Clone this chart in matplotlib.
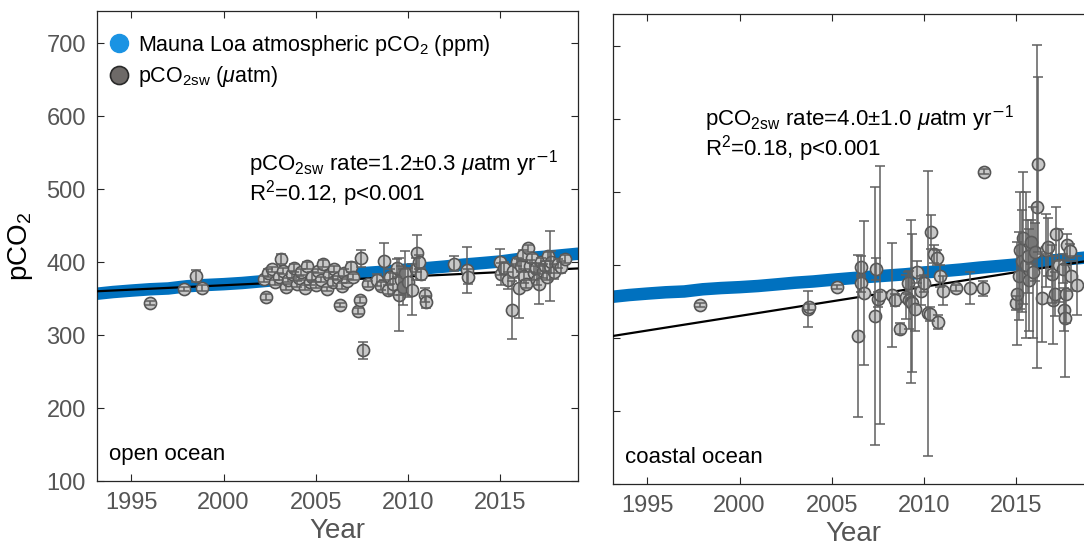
import matplotlib
matplotlib.use("Agg")
import matplotlib.pyplot as plt
from matplotlib.lines import Line2D
import numpy as np

plt.rcParams['font.family'] = ['Liberation Sans', 'DejaVu Sans']
plt.rcParams['mathtext.fontset'] = 'custom'
plt.rcParams['mathtext.rm'] = 'Liberation Sans'
plt.rcParams['mathtext.it'] = 'Liberation Sans:italic'
plt.rcParams['mathtext.default'] = 'regular'

# Mauna Loa annual mean atmospheric pCO2 (ppm)
ml_year = [1993.1, 1994, 1995, 1996, 1997, 1998, 1999, 2000, 2001, 2002, 2003, 2004,
           2005, 2006, 2007, 2008, 2009, 2010, 2011, 2012, 2013, 2014, 2015, 2016,
           2017, 2018, 2019.2]
ml_co2 = [356.5, 358.9, 360.9, 362.7, 363.8, 366.8, 368.5, 369.7, 371.3, 373.5, 375.8,
          377.5, 379.8, 381.9, 383.8, 385.6, 387.4, 389.9, 391.7, 393.9, 396.5, 398.6,
          400.8, 404.2, 406.5, 408.5, 411.4]

# open ocean pCO2sw
open_year = [1996.0, 1997.85, 1998.5, 1998.85, 2002.2, 2002.3, 2002.4, 2002.6, 2002.8, 2003.0,
             2003.1, 2003.2, 2003.4, 2003.5, 2003.7, 2003.8, 2004.0, 2004.1, 2004.2, 2004.4,
             2004.5, 2004.7, 2004.8, 2005.0, 2005.1, 2005.3, 2005.4, 2005.6, 2005.7, 2005.9,
             2006.0, 2006.2, 2006.3, 2006.4, 2006.5, 2006.7, 2006.9, 2007.0, 2007.3, 2007.4,
             2007.47, 2007.56, 2007.8, 2008.3, 2008.5, 2008.7, 2008.9, 2009.0, 2009.2, 2009.4,
             2009.5, 2009.6, 2009.7, 2009.8, 2010.0, 2010.2, 2010.4, 2010.5, 2010.6, 2010.7,
             2010.9, 2010.95, 2012.5, 2013.2, 2013.25, 2015.0, 2015.05, 2015.2, 2015.4, 2015.6,
             2015.7, 2015.9, 2016.0, 2016.1, 2016.2, 2016.3, 2016.4, 2016.5, 2016.6, 2016.7,
             2016.8, 2016.9, 2017.0, 2017.1, 2017.2, 2017.3, 2017.4, 2017.5, 2017.6, 2017.7,
             2017.76, 2017.9, 2018.1, 2018.3, 2018.5]
open_co2 = [344, 363, 381, 364, 377, 352, 385, 390, 372, 380,
            404, 388, 366, 375, 383, 392, 370, 378, 386, 365,
            395, 372, 380, 368, 388, 376, 398, 363, 382, 372,
            390, 378, 341, 367, 385, 374, 393, 380, 333, 348,
            405, 279, 370, 375, 367, 401, 362, 380, 370, 392,
            355, 375, 366, 385, 372, 362, 390, 412, 400, 384,
            355, 345, 398, 389, 380, 400, 384, 392, 375, 334,
            388, 400, 364, 395, 410, 381, 370, 419, 395, 405,
            385, 392, 376, 370, 400, 388, 395, 380, 408, 395,
            400, 387, 398, 393, 404]
open_err = [3, 3, 8, 4, 4, 4, 5, 3, 4, 5,
            7, 4, 4, 3, 5, 6, 4, 3, 4, 3,
            5, 4, 6, 4, 3, 4, 5, 3, 4, 5,
            4, 3, 3, 4, 6, 3, 7, 4, 4, 4,
            12, 12, 4, 8, 5, 25, 6, 10, 15, 12,
            50, 20, 25, 30, 20, 35, 15, 25, 10, 8,
            10, 8, 10, 32, 10, 18, 15, 8, 12, 40,
            10, 6, 40, 8, 7, 10, 6, 5, 8, 6,
            9, 7, 8, 28, 6, 10, 7, 5, 6, 48,
            15, 10, 6, 8, 5]

# coastal ocean pCO2sw
coast_year = [1997.84, 2003.7, 2003.75, 2005.25, 2006.4, 2006.55, 2006.6, 2006.73, 2007.32, 2007.4,
              2007.5, 2007.6, 2008.27, 2008.4, 2008.7, 2009.0, 2009.1, 2009.2, 2009.3, 2009.35,
              2009.5, 2009.6, 2009.8, 2010.0, 2010.2, 2010.3, 2010.38, 2010.55, 2010.7, 2010.75,
              2010.85, 2011.0, 2011.75, 2012.47, 2013.2, 2013.25, 2015.0, 2015.05, 2015.15, 2015.2,
              2015.3, 2015.35, 2015.5, 2015.6, 2015.7, 2015.8, 2015.9, 2016.0, 2016.12, 2016.15,
              2016.4, 2016.6, 2016.7, 2016.9, 2017.0, 2017.1, 2017.15, 2017.3, 2017.5, 2017.6,
              2017.65, 2017.7, 2017.75, 2017.9, 2017.95, 2018.3]
coast_co2 = [345, 340, 342, 370, 303, 398, 375, 362, 330, 395,
             353, 359, 359, 352, 313, 356, 375, 352, 350, 348,
             340, 391, 365, 375, 334, 333, 445, 415, 410, 322,
             385, 365, 368, 368, 368, 528, 348, 361, 385, 420,
             405, 437, 400, 412, 380, 432, 390, 418, 480, 538,
             355, 420, 425, 388, 352, 360, 443, 400, 395, 339,
             327, 360, 428, 419, 385, 372]
coast_err = [3, 25, 4, 3, 111, 15, 12, 99, 177, 15,
             10, 177, 71, 8, 8, 30, 15, 40, 112, 95,
             30, 15, 20, 12, 195, 10, 23, 12, 10, 10,
             15, 20, 4, 22, 10, 3, 10, 70, 60, 80,
             70, 90, 100, 50, 70, 30, 90, 40, 221, 120,
             60, 50, 40, 40, 60, 30, 37, 50, 20, 30,
             80, 40, 15, 10, 20, 40]

# linear fits: (slope per year, value at 2000)
open_fit = (1.2, 368.2)
coast_fit = (4.0, 330.3)
fit_years = [1993.0, 2020.0]

XLIM = (1993.14, 2019.2)
YLIM = (100, 744)

W, H = 1084, 548
fig = plt.figure(figsize=(W / 100, H / 100), dpi=100)
ax1 = fig.add_axes([97 / W, (H - 481) / H, 481 / W, 470 / H])
ax2 = fig.add_axes([613 / W, (H - 484) / H, 481 / W, 470 / H])

blue = '#0071BF'
axcol = '#262626'
tickcol = '#555555'


def panel(ax, yr, co2, err, fit, label, ann, ann_xy, show_ylabels):
    ax.plot(ml_year, ml_co2, color=blue, lw=9, solid_capstyle='round', zorder=2)
    fy = np.array(fit_years)
    ax.plot(fy, fit[1] + fit[0] * (fy - 2000), color='black', lw=1.6, zorder=3)
    ax.plot(yr, co2, 'o', ms=8.7, mfc='#c8c8c8', mec='#555555', mew=1.2, zorder=4, ls='none')
    ax.errorbar(yr, co2, yerr=err, fmt='none', ecolor='#5f5f5f', elinewidth=1.1,
                capsize=3.5, capthick=1.1, zorder=5)
    ax.set_xlim(*XLIM)
    ax.set_ylim(*YLIM)
    ax.set_xticks([1995, 2000, 2005, 2010, 2015])
    ax.set_yticks([100, 200, 300, 400, 500, 600, 700])
    ax.tick_params(direction='in', top=True, right=True, length=5, width=0.8,
                   colors=axcol, labelcolor=tickcol, labelsize=17, pad=8)
    if not show_ylabels:
        ax.tick_params(labelleft=False)
    for s in ax.spines.values():
        s.set_color(axcol)
        s.set_linewidth(0.9)
    ax.set_xlabel('Year', fontsize=20, color=tickcol, labelpad=3)
    ax.text(0.025, 0.035, label, transform=ax.transAxes, fontsize=16, color='black',
            ha='left', va='bottom')
    ax.text(ann_xy[0], ann_xy[1], ann, fontsize=16, ha='left', va='top', linespacing=0.95)


panel(ax1, open_year, open_co2, open_err, open_fit, 'open ocean',
      'pCO$_{2sw}$ rate=1.2±0.3 $\\mathit{\\mu}$atm yr$^{\\mathsf{-}1}$\nR$^2$=0.12, p<0.001',
      (2001.4, 556), True)
panel(ax2, coast_year, coast_co2, coast_err, coast_fit, 'coastal ocean',
      'pCO$_{2sw}$ rate=4.0±1.0 $\\mathit{\\mu}$atm yr$^{\\mathsf{-}1}$\nR$^2$=0.18, p<0.001',
      (1998.15, 622), False)

ax1.set_ylabel('pCO$_2$', fontsize=20, color='black', labelpad=8)

handles = [Line2D([], [], marker='o', ls='none', ms=13, mfc='#1a93e3', mec='#1a93e3'),
           Line2D([], [], marker='o', ls='none', ms=13, mfc='#6e6a68', mec='#2a2a2a', mew=1.2)]
ax1.legend(handles, ['Mauna Loa atmospheric pCO$_2$ (ppm)', r'pCO$_{2sw}$ ($\mathit{\mu}$atm)'],
           loc='upper left', bbox_to_anchor=(0.005, 0.972), frameon=False, fontsize=15.5,
           handlelength=1.0, handletextpad=0.4, labelspacing=0.3, borderaxespad=0)

fig.savefig('out.png', dpi=100)
